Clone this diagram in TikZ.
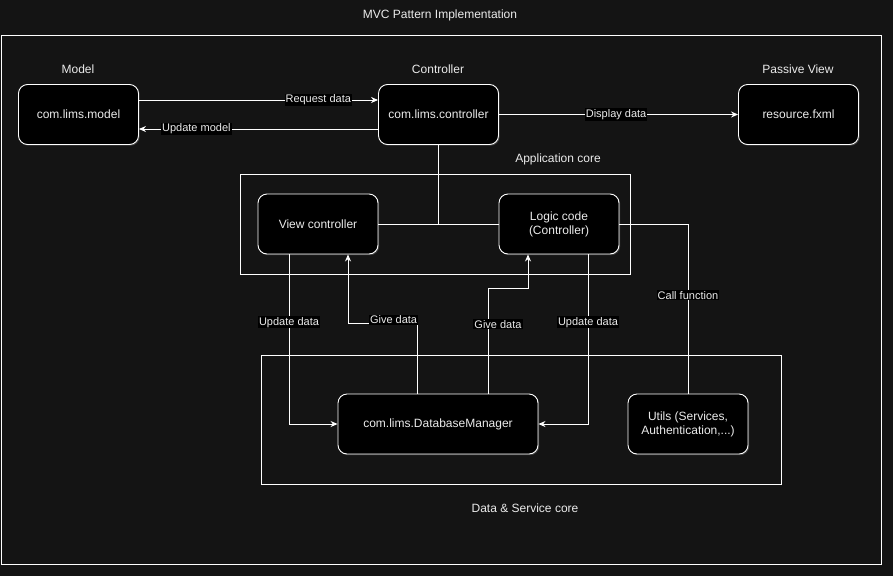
\documentclass[tikz,border=0pt]{standalone}
\usepackage{fontspec}
\setmainfont{Liberation Sans}
\usetikzlibrary{arrows.meta,shadows}
\definecolor{bgc}{RGB}{20,20,20}
\definecolor{txt}{RGB}{235,235,235}
\tikzset{
  box/.style={draw=white, line width=0.9pt, fill=black, rounded corners=9pt,
    minimum width=120pt, minimum height=60pt, inner sep=0pt, text=txt, align=center,
    font=\fontsize{12}{14}\selectfont,
    general shadow={shadow xshift=1.2pt, shadow yshift=-1.2pt, fill=white, opacity=0.18}},
  grp/.style={draw=white, line width=0.8pt, inner sep=0pt},
  ttl/.style={text=txt, font=\fontsize{12}{14}\selectfont, inner sep=0pt},
  lbl/.style={fill=black, text=txt, font=\fontsize{11}{13}\selectfont, inner sep=1pt},
  conn/.style={draw=white, line width=0.9pt},
  arr/.style={conn, -{Stealth[length=7pt,width=6pt]}}
}
\begin{document}
\begin{tikzpicture}[x=1pt,y=-1pt]
\fill[bgc] (0,0) rectangle (893,576);
\useasboundingbox (0,0) rectangle (893,576);
% containers
\node[grp, minimum width=880pt, minimum height=529pt] (outer) at (441,299.5) {};
\node[grp, minimum width=390pt, minimum height=100pt] (appcore) at (435,224) {};
\node[grp, minimum width=520pt, minimum height=129pt] (datacore) at (521,419.5) {};
% titles
\node[ttl] (title) at (440,15) {MVC Pattern Implementation};
\node[ttl] (tmodel) at (78,69) {Model};
\node[ttl] (tctrl) at (438,69) {Controller};
\node[ttl] (tview) at (798,69) {Passive View};
\node[ttl] (tapp) at (558,159) {Application core};
\node[ttl] (tdata) at (525,508) {Data \& Service core};
% boxes
\node[box] (model) at (78.5,114.5) {com.lims.model};
\node[box] (ctrl) at (438.5,114.5) {com.lims.controller};
\node[box] (view) at (798.5,114.5) {resource.fxml};
\node[box] (vc) at (318,224) {View controller};
\node[box] (logic) at (559,224) {Logic code\\(Controller)};
\node[box, minimum width=200pt] (db) at (438,424) {com.lims.DatabaseManager};
\node[box] (utils) at (688,424) {Utils (Services,\\Authentication,...)};
% connectors
\draw[arr] ([yshift=14.5pt]model.east) -- node[lbl, pos=0.75] {Request data} ([yshift=14.5pt]ctrl.west);
\draw[arr] ([yshift=-14.5pt]ctrl.west) -- node[lbl, pos=0.76] {Update model} ([yshift=-14.5pt]model.east);
\draw[arr] (ctrl.east) -- node[lbl, pos=0.49] {Display data} (view.west);
\draw[conn] (ctrl.south) -- (ctrl.south |- vc.east);
\draw[conn] (vc.east) -- (logic.west);
\draw[conn] (logic.east) -| node[lbl, pos=0.71] {Call function} (utils.north);
\draw[arr] ([xshift=-29pt]vc.south) |- node[lbl, pos=0.2] {Update data} (db.west);
\draw[arr] ([xshift=-21pt]db.north) -- ++(0,-70) -| node[lbl, pos=0.17, yshift=4pt] {Give data} ([xshift=30pt]vc.south);
\draw[arr] ([xshift=50pt]db.north) -- node[lbl, pos=0.66, xshift=10pt] {Give data} ++(0,-105) -| ([xshift=-31pt]logic.south);
\draw[arr] ([xshift=29pt]logic.south) |- node[lbl, pos=0.2] {Update data} (db.east);
\end{tikzpicture}
\end{document}
